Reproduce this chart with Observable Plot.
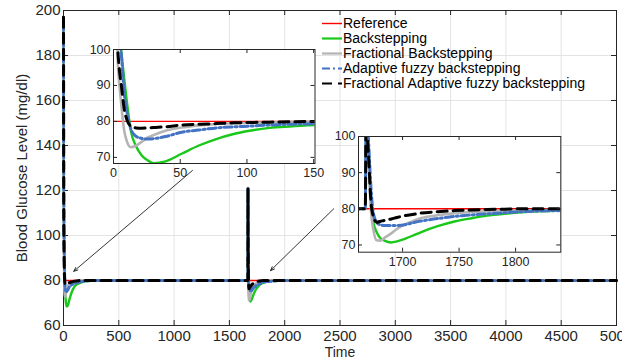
<!DOCTYPE html>
<html><head><meta charset="utf-8">
<script src="https://cdn.jsdelivr.net/npm/d3@7"></script>
<script src="https://cdn.jsdelivr.net/npm/@observablehq/plot@0.6"></script>
<style>
body{margin:0;background:#fff;}
#wrap{position:relative;width:644px;height:360px;overflow:hidden;font-family:"Liberation Sans",Arial,sans-serif;background:#fff;}
#wrap svg{position:absolute;}
#legend{position:absolute;left:322px;top:16px;font-size:14px;color:#000;line-height:15px;}
#legend .row{height:15px;display:flex;align-items:center;white-space:nowrap;}
#legend .row svg{position:static;display:block;margin-right:1px;}
</style></head><body><div id="wrap"><div id="legend"></div></div><script>
// ---------- data ----------
const time = [0,1,2,3,4,5,6,8,10,13,17,21,26,30,39,51,64,77,90,102,117,132,152,200,300,
  1667,1668,1669,1670,1672,1674,1677,1680,1684,1690,1695,1702,1710,1716,1731,1746,1761,1775,1790,1805,1840,1900,2000,5000];
const refTime = [0, 5000];
const reference = [80, 80];
const backstepping = [197,165,140,122,110,103,99,92,85.5,77.4,73,70.6,69.1,68.4,68.9,71.0,73.3,75.1,76.5,77.4,78.2,78.6,79.0,79.6,80,
  80,121,103,96,82,76.5,73.6,72,71.2,70.7,71.0,71.7,72.7,73.5,75.2,76.5,77.4,78.1,78.6,79.0,79.5,79.8,80,80];
const fractionalBackstepping = [197,152,120,99,92,88,84,77.5,74.5,72.8,73.3,74.3,75.6,76.2,77.4,78.3,78.9,79.3,79.5,79.6,79.7,79.8,80,80,80,
  80,121,100,92,79.5,74.5,71.3,71.2,72,73.2,74.4,75.7,76.7,77.4,78.2,78.8,79.1,79.3,79.4,79.5,79.7,80,80,80];
const adaptiveFuzzy = [197,160,135,118,108,102,98,88,82.9,77.9,75.8,75.3,75.1,75.2,75.8,77.0,77.6,78.2,78.5,78.7,79.0,79.2,79.4,79.8,80,
  80,121,104,98,86,79,76.3,75.6,75.4,75.4,75.4,75.6,76.2,76.6,77.3,77.9,78.3,78.6,78.9,79.2,79.5,79.8,80,80];
const fractionalAdaptiveFuzzy = [197,150,118,102,96,92.5,89.6,83.5,80.5,78.7,78.2,78.1,78.2,78.3,78.5,79.0,79.2,79.4,79.6,79.7,79.8,79.9,80,80,80,
  80,121,100,94,82,78,76.3,76.5,76.8,77.2,77.6,78.1,78.5,78.8,79.2,79.5,79.7,79.8,79.9,80,80,80,80,80];

const seriesNames = ["Reference","Backstepping","Fractional Backstepping","Adaptive fuzzy backstepping","Fractional Adaptive fuzzy backstepping"];

const mainXTicks = [0,500,1000,1500,2000,2500,3000,3500,4000,4500,5000];
const mainYTicks = [60,80,100,120,140,160,180,200];
const inset1XTicks = [0,50,100,150];
const inset2XTicks = [1700,1750,1800];
const insetYTicks = [70,80,90,100];

// annotation arrows (data coordinates of main axes)
const arrowFromX = [1166, 2444];
const arrowFromY = [128.9, 111.9];
const arrowToX = [93, 1872];
const arrowToY = [84.1, 84.4];

// ---------- styles ----------
const styles = [
  {stroke: "#ff0000", strokeWidth: 1.4},
  {stroke: "#19c819", strokeWidth: 2.4},
  {stroke: "#b4b4b4", strokeWidth: 2.6},
  {stroke: "#4472c4", strokeWidth: 3, strokeDasharray: "8,3,2,3"},
  {stroke: "#000000", strokeWidth: 3, strokeDasharray: "10,6"}
];
const FONT = '"Liberation Sans", Arial, Helvetica, sans-serif';
const AX = "#262626";

function lineMarks(clip) {
  const vals = [backstepping, fractionalBackstepping, adaptiveFuzzy, fractionalAdaptiveFuzzy];
  const marks = [Plot.line(reference, {x: refTime, y: reference, ...styles[0], clip})];
  vals.forEach((v, i) => marks.push(Plot.line(v, {x: time, y: v, curve: "monotone-x", strokeLinejoin: "round", clip, ...styles[i + 1]})));
  return marks;
}

function boxTicks(xt, yt, ph, pw, len) {
  return [
    Plot.tickX(xt, {x: d => d, insetTop: ph - len, stroke: AX}),
    Plot.tickX(xt, {x: d => d, insetBottom: ph - len, stroke: AX}),
    Plot.tickY(yt, {y: d => d, insetRight: pw - len, stroke: AX}),
    Plot.tickY(yt, {y: d => d, insetLeft: pw - len, stroke: AX})
  ];
}

const wrap = document.getElementById("wrap");

// ---------- main axes ----------
const mW = 622, mH = 360, mL = 63, mR = 6, mT = 10, mB = 35;
const mainPlot = Plot.plot({
  width: mW, height: mH,
  marginLeft: mL, marginRight: mR, marginTop: mT, marginBottom: mB,
  x: {domain: [0, 5000]},
  y: {domain: [60, 200]},
  style: {fontFamily: FONT, fontSize: "15px", color: AX, background: "transparent", overflow: "hidden"},
  marks: [
    Plot.gridX(mainXTicks, {x: d => d, stroke: "#e3e3e3", strokeOpacity: 1}),
    Plot.gridY(mainYTicks, {y: d => d, stroke: "#e3e3e3", strokeOpacity: 1}),
    Plot.frame({stroke: AX, strokeWidth: 1}),
    ...boxTicks(mainXTicks, mainYTicks, mH - mT - mB, mW - mL - mR, 5),
    ...lineMarks(false),
    Plot.arrow(arrowFromX, {x1: arrowFromX, y1: arrowFromY, x2: arrowToX, y2: arrowToY, stroke: "#000", strokeWidth: 0.8, headLength: 8, headAngle: 45}),
    Plot.axisX(mainXTicks, {tickSize: 0, tickPadding: 5, label: null, tickFormat: d => String(d), fill: AX}),
    Plot.axisY(mainYTicks, {tickSize: 0, tickPadding: 3, label: null, tickFormat: d => String(d), fill: AX}),
    Plot.text(["Time"], {frameAnchor: "bottom", dy: 27.3, lineAnchor: "middle", text: d => d, fill: AX, fontSize: 14}),
    Plot.text(["Blood Glucose Level (mg/dl)"], {frameAnchor: "left", rotate: -90, dx: -41, lineAnchor: "middle", textAnchor: "middle", text: d => d, fill: AX, fontSize: 15})
  ]
});
mainPlot.style.left = "0px"; mainPlot.style.top = "0px";
wrap.insertBefore(mainPlot, wrap.firstChild);

// ---------- insets ----------
function inset(box, xDomain, yDomain, xTicks) {
  const L = 30, R = 12, T = 10, B = 20;
  const pw = box.right - box.left, ph = box.bottom - box.top;
  const p = Plot.plot({
    width: pw + L + R, height: ph + T + B,
    marginLeft: L, marginRight: R, marginTop: T, marginBottom: B,
    x: {domain: xDomain}, y: {domain: yDomain},
    style: {fontFamily: FONT, fontSize: "12.5px", color: AX, background: "transparent", overflow: "visible"},
    marks: [
      Plot.frame({fill: "white", stroke: "none"}),
      ...lineMarks(true),
      Plot.frame({stroke: AX, strokeWidth: 1}),
      ...boxTicks(xTicks, insetYTicks, ph, pw, 4),
      Plot.axisX(xTicks, {tickSize: 0, tickPadding: 5, label: null, tickFormat: d => String(d), fill: AX}),
      Plot.axisY(insetYTicks, {tickSize: 0, tickPadding: 3, label: null, tickFormat: d => String(d), fill: AX})
    ]
  });
  p.style.left = (box.left - L) + "px";
  p.style.top = (box.top - T) + "px";
  wrap.appendChild(p);
}
inset({left: 112.5, right: 314, top: 49, bottom: 163}, [0, 151], [68.3, 100], inset1XTicks);
inset({left: 357.7, right: 560, top: 136, bottom: 251.7}, [1661, 1840], [68, 100], inset2XTicks);

// ---------- legend ----------
const legend = document.getElementById("legend");
wrap.appendChild(legend);
seriesNames.forEach((name, i) => {
  const row = document.createElement("div");
  row.className = "row";
  const s = styles[i];
  row.innerHTML = `<svg width="20" height="15"><line x1="0" x2="20" y1="7.5" y2="7.5" stroke="${s.stroke}" stroke-width="${Math.min(s.strokeWidth, 2.2)}" ${s.strokeDasharray ? `stroke-dasharray="${s.strokeDasharray}"` : ""}/></svg><span>${name}</span>`;
  legend.appendChild(row);
});
</script></body></html>
